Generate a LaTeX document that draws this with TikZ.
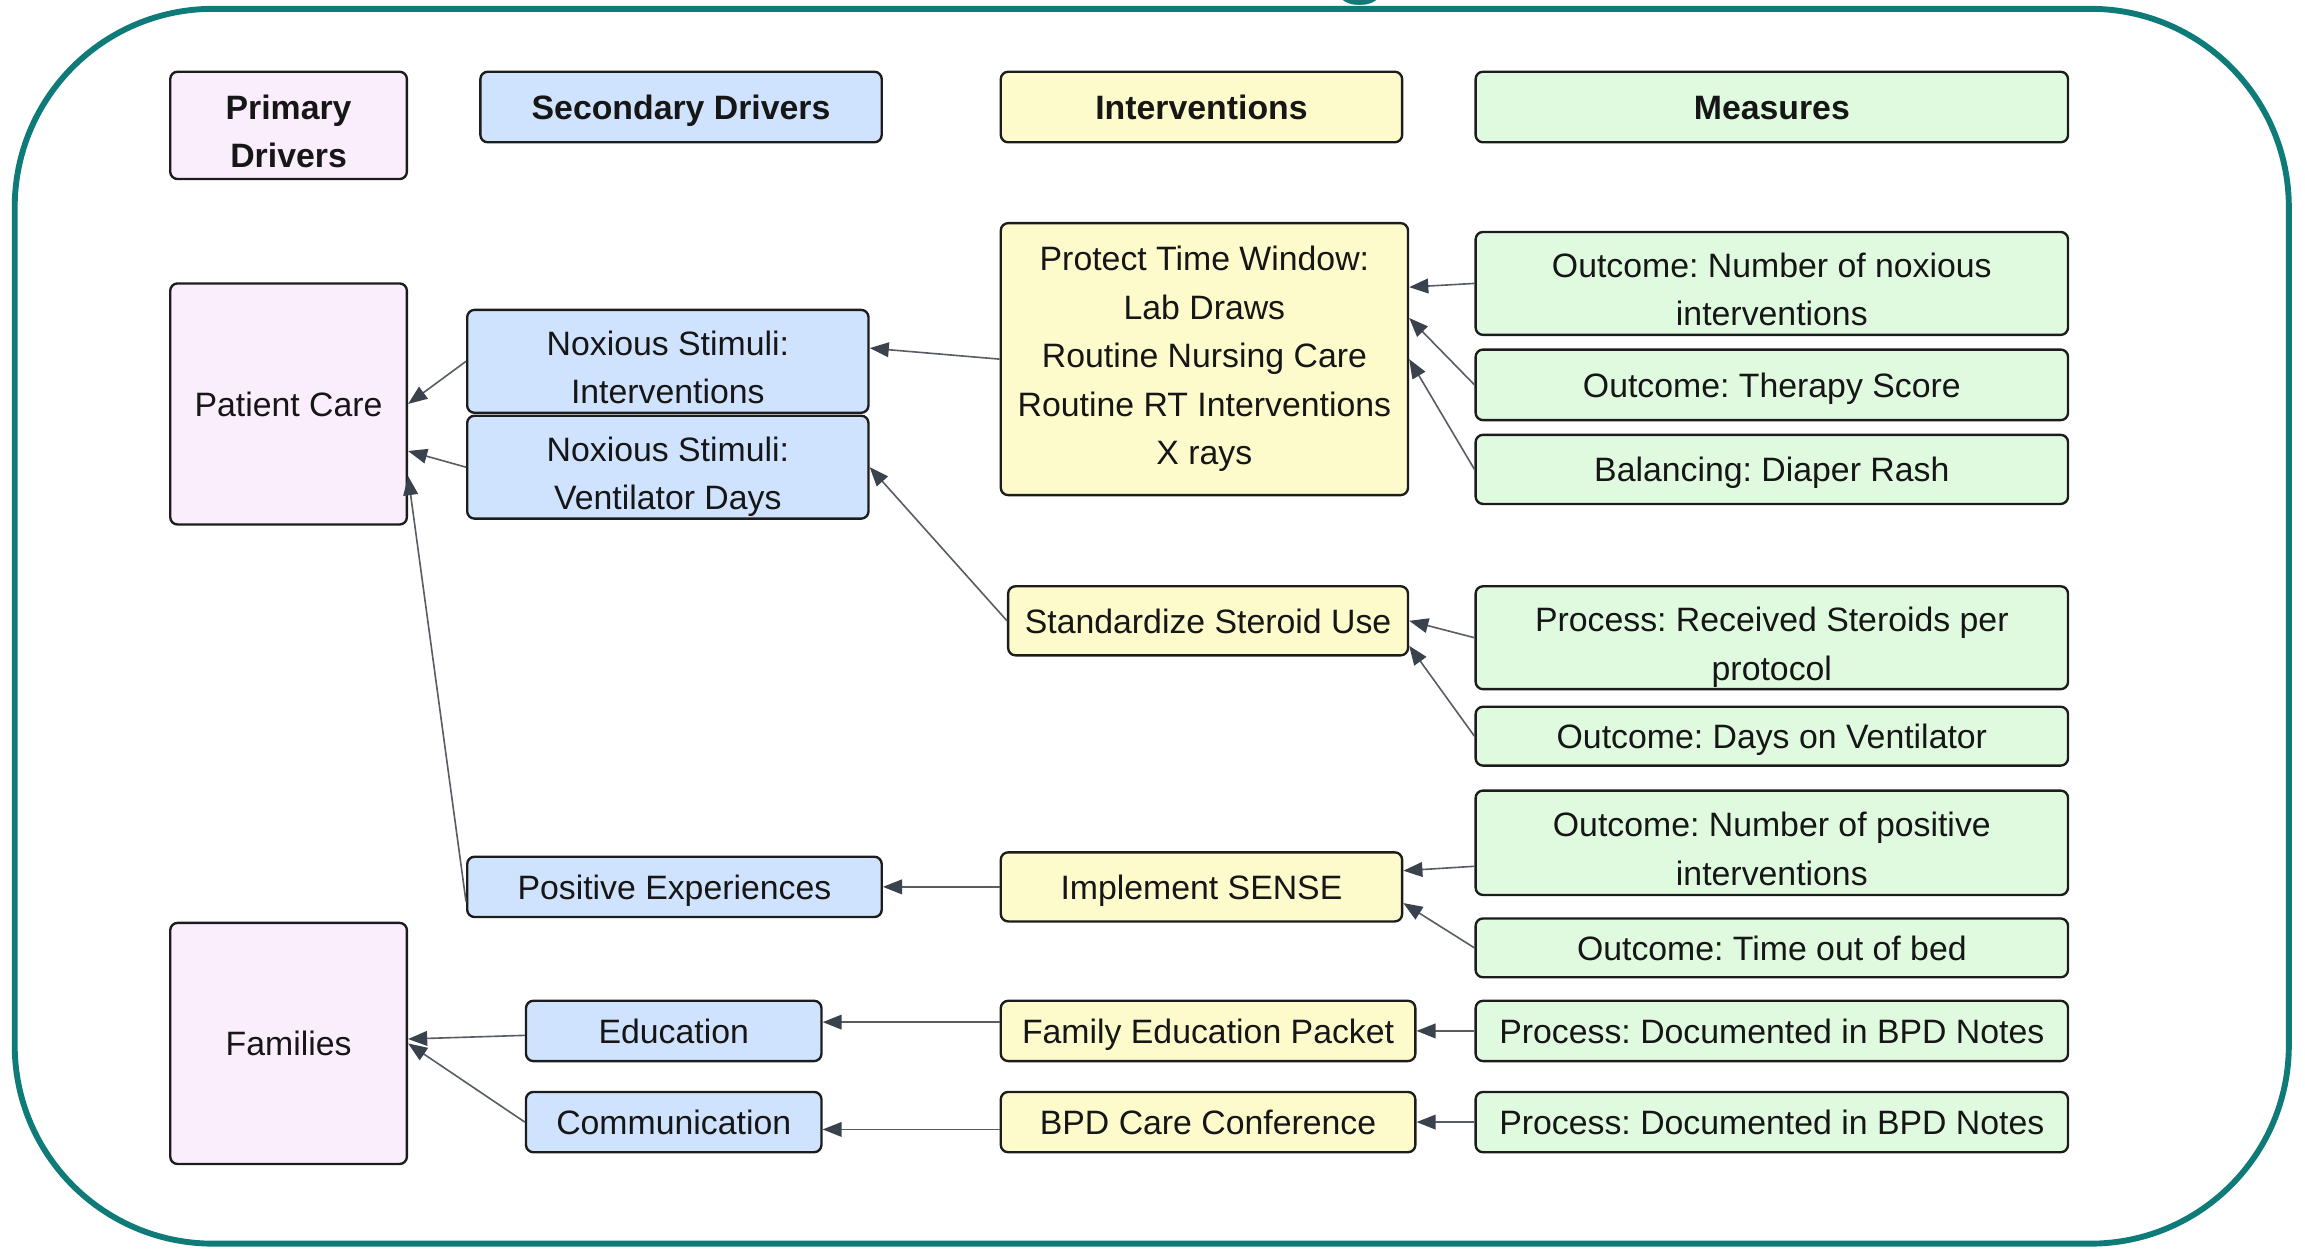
\documentclass[tikz,border=0pt]{standalone}
\usepackage{fontspec}
\setmainfont{Liberation Sans}
\usetikzlibrary{arrows.meta}
\frenchspacing
\definecolor{tealb}{RGB}{14,123,121}
\definecolor{pinkf}{RGB}{250,238,253}
\definecolor{bluef}{RGB}{207,227,254}
\definecolor{yelf}{RGB}{253,251,204}
\definecolor{grnf}{RGB}{224,250,224}
\definecolor{edgec}{RGB}{28,28,28}
\definecolor{connc}{RGB}{88,93,101}
\definecolor{tipc}{RGB}{58,66,78}
\definecolor{txtc}{RGB}{22,22,22}
\newcommand\topstrut{\rule{0pt}{29.4pt}}
\newcommand\botstrut{\rule[-4.8pt]{0pt}{0pt}}
\begin{document}
\begin{tikzpicture}[x=1pt,y=-1pt,
  box/.style={draw=edgec,line width=1.6pt,rounded corners=5pt,anchor=north west,
    inner sep=0pt,align=center,text=txtc,font=\fontsize{23}{33}\selectfont},
  one/.style={text height=17pt,text depth=0pt},
  hdr/.style={box,font=\fontsize{23}{32}\selectfont\bfseries},
  pk/.style={fill=pinkf},
  bl/.style={fill=bluef},
  yl/.style={fill=yelf},
  gr/.style={fill=grnf},
  link/.style={draw=connc,line width=1.1pt,
    -{Triangle[length=13pt,width=10pt,color=tipc]}}]
\useasboundingbox (0,0) rectangle (1568,849);

% outer frame and cut-off title
\node[anchor=base,text=tealb,font=\fontsize{64}{64}\selectfont\bfseries,inner sep=0pt] (ttl) at (926,-10) {g};
\draw[tealb,line width=4pt,rounded corners=135pt] (10,6) rectangle (1557,846);

% headers
\node[hdr,pk,minimum width=161pt,minimum height=73pt] (hp) at (115,48) {\topstrut Primary\\Drivers\botstrut};
\node[hdr,one,bl,minimum width=273pt,minimum height=48pt] (hs) at (326,48) {Secondary Drivers};
\node[hdr,one,yl,minimum width=273pt,minimum height=48pt] (hi) at (680,48) {Interventions};
\node[hdr,one,gr,minimum width=403pt,minimum height=48pt] (hm) at (1003,48) {Measures};

% primary drivers
\node[box,one,pk,minimum width=161pt,minimum height=164pt] (pc) at (115,192) {Patient Care};
\node[box,one,pk,minimum width=161pt,minimum height=164pt] (fam) at (115,627) {Families};

% secondary drivers
\node[box,bl,minimum width=273pt,minimum height=70pt] (nsi) at (317,210) {\topstrut Noxious Stimuli:\\Interventions\botstrut};
\node[box,bl,minimum width=273pt,minimum height=70pt] (nsv) at (317,282) {\topstrut Noxious Stimuli:\\Ventilator Days\botstrut};
\node[box,one,bl,minimum width=282pt,minimum height=41pt] (pe) at (317,582) {Positive Experiences};
\node[box,one,bl,minimum width=201pt,minimum height=41pt] (edu) at (357,680) {Education};
\node[box,one,bl,minimum width=201pt,minimum height=41pt] (com) at (357,742) {Communication};

% interventions
\node[box,yl,minimum width=277pt,minimum height=185pt] (ptw) at (680,151) {Protect Time Window:\\Lab Draws\\Routine Nursing Care\\Routine RT Interventions\\X rays};
\node[box,one,yl,minimum width=272pt,minimum height=47pt] (ssu) at (685,398) {Standardize Steroid Use};
\node[box,one,yl,minimum width=273pt,minimum height=47pt] (sense) at (680,579) {Implement SENSE};
\node[box,one,yl,minimum width=282pt,minimum height=41pt] (fep) at (680,680) {Family Education Packet};
\node[box,one,yl,minimum width=282pt,minimum height=41pt] (bpd) at (680,742) {BPD Care Conference};

% measures
\node[box,gr,minimum width=403pt,minimum height=70pt] (m1) at (1003,157) {\topstrut Outcome: Number of noxious\\interventions\botstrut};
\node[box,one,gr,minimum width=403pt,minimum height=48pt] (m2) at (1003,237) {Outcome: Therapy Score};
\node[box,one,gr,minimum width=403pt,minimum height=47pt] (m3) at (1003,295) {Balancing: Diaper Rash};
\node[box,gr,minimum width=403pt,minimum height=70pt] (m4) at (1003,398) {\topstrut Process: Received Steroids per\\protocol\botstrut};
\node[box,one,gr,minimum width=403pt,minimum height=40pt] (m5) at (1003,480) {Outcome: Days on Ventilator};
\node[box,gr,minimum width=403pt,minimum height=71pt] (m6) at (1003,537) {\topstrut Outcome: Number of positive\\interventions\botstrut};
\node[box,one,gr,minimum width=403pt,minimum height=40pt] (m7) at (1003,624) {Outcome: Time out of bed};
\node[box,one,gr,minimum width=403pt,minimum height=41pt] (m8) at (1003,680) {Process: Documented in BPD Notes};
\node[box,one,gr,minimum width=403pt,minimum height=41pt] (m9) at (1003,742) {Process: Documented in BPD Notes};

% secondary -> primary
\draw[link] (nsi.west) -- (pc.east);
\draw[link] (nsv.west) -- ([yshift=-32pt]pc.east);
\draw[link] ([yshift=-10pt]pe.west) -- ([yshift=-49pt]pc.east);
\draw[link] ([yshift=-3pt]edu.west) -- ([yshift=3pt]fam.east);
\draw[link] (com.west) -- (fam.east);

% interventions -> secondary
\draw[link] (ptw.west) -- ([yshift=9pt]nsi.east);
\draw[link] (ssu.west) -- (nsv.east);
\draw[link] (sense.west) -- (pe.east);
\draw[link] ([yshift=6pt]fep.west) -- ([yshift=6pt]edu.east);
\draw[link] ([yshift=-5pt]bpd.west) -- ([yshift=-5pt]com.east);

% measures -> interventions
\draw[link] (m1.west) -- ([yshift=49pt]ptw.east);
\draw[link] (m2.west) -- ([yshift=28pt]ptw.east);
\draw[link] (m3.west) -- (ptw.east);
\draw[link] (m4.west) -- (ssu.east);
\draw[link] (m5.west) -- ([yshift=-17pt]ssu.east);
\draw[link] ([yshift=-16pt]m6.west) -- ([yshift=11pt]sense.east);
\draw[link] (m7.west) -- ([yshift=-11pt]sense.east);
\draw[link] (m8.west) -- (fep.east);
\draw[link] (m9.west) -- (bpd.east);
\end{tikzpicture}
\end{document}
